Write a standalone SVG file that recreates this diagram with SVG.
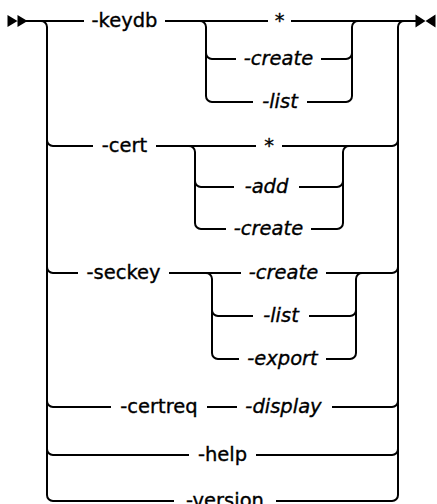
<svg xmlns="http://www.w3.org/2000/svg" width="437" height="504" viewBox="0 0 437 504">
<style>
.ln{fill:none;stroke:#000;stroke-width:2;stroke-linecap:butt}
.t{font-family:"DejaVu Sans","Liberation Sans",sans-serif;font-size:19.5px;fill:#000;stroke:#000;stroke-width:0.35;text-anchor:middle}
.i{font-style:italic}
.ah{fill:#000}
</style>
<rect width="437" height="504" fill="#fff"/>
<g id="connectors">
<path class="ah" d="M7.5,15 L17.5,21 L7.5,27 Z M17.5,15 L27.5,21 L17.5,27 Z"/>
<path class="ah" d="M415.5,14.5 L425.5,21 L415.5,27.5 Z M435.5,14.5 L425.5,21 L435.5,27.5 Z"/>
<path class="ln" d="M26,21 H84 M165,21 H268 M291,21 H417"/>
<path class="ln" d="M41,21 A6,6 0 0 1 47,27 V495 A6,6 0 0 0 53,501"/>
<path class="ln" d="M47,140 A6,6 0 0 0 53,146 M47,267 A6,6 0 0 0 53,273 M47,401 A6,6 0 0 0 53,407 M47,449 A6,6 0 0 0 53,455"/>
<path class="ln" d="M404,21 A6,6 0 0 0 398,27 V495 A6,6 0 0 1 392,501"/>
<path class="ln" d="M392,146 A6,6 0 0 0 398,140 M392,273 A6,6 0 0 0 398,267 M392,407 A6,6 0 0 0 398,401 M392,455 A6,6 0 0 0 398,449"/>
<path class="ln" d="M200,21 A6,6 0 0 1 206,27 V96 A6,6 0 0 0 212,102 M206,53 A6,6 0 0 0 212,59"/>
<path class="ln" d="M358,21 A6,6 0 0 0 352,27 V96 A6,6 0 0 1 346,102 M346,59 A6,6 0 0 0 352,53"/>
<path class="ln" d="M212,59 H236 M321,59 H346 M212,102 H253 M307,102 H346"/>
<path class="ln" d="M53,146 H93 M156,146 H256 M282,146 H392"/>
<path class="ln" d="M189,146 A6,6 0 0 1 195,152 V223 A6,6 0 0 0 201,229 M195,181 A6,6 0 0 0 201,187"/>
<path class="ln" d="M349,146 A6,6 0 0 0 343,152 V223 A6,6 0 0 1 337,229 M337,187 A6,6 0 0 0 343,181"/>
<path class="ln" d="M201,187 H234 M299,187 H337 M201,229 H226 M311,229 H337"/>
<path class="ln" d="M53,273 H78 M169,273 H241 M326,273 H392"/>
<path class="ln" d="M206,273 A6,6 0 0 1 212,279 V353 A6,6 0 0 0 218,359 M212,310 A6,6 0 0 0 218,316"/>
<path class="ln" d="M362,273 A6,6 0 0 0 356,279 V353 A6,6 0 0 1 350,359 M350,316 A6,6 0 0 0 356,310"/>
<path class="ln" d="M218,316 H253 M309,316 H350 M218,359 H239 M326,359 H350"/>
<path class="ln" d="M53,407 H111 M207,407 H237 M332,407 H392"/>
<path class="ln" d="M53,455 H189 M256,455 H392"/>
<path class="ln" d="M53,501 H174 M276,501 H392"/>
</g>
<g id="keydb"><text class="t" x="124.5" y="27">-keydb</text></g>
<g id="keydb-all"><text class="t" x="279.5" y="27">*</text></g>
<g id="keydb-create"><text class="t i" x="278.5" y="65">-create</text></g>
<g id="keydb-list"><text class="t i" x="280" y="108">-list</text></g>
<g id="cert"><text class="t" x="124.5" y="152">-cert</text></g>
<g id="cert-all"><text class="t" x="269" y="152">*</text></g>
<g id="cert-add"><text class="t i" x="266.5" y="193">-add</text></g>
<g id="cert-create"><text class="t i" x="268.5" y="235">-create</text></g>
<g id="seckey"><text class="t" x="123.5" y="279">-seckey</text></g>
<g id="seckey-create"><text class="t i" x="283.5" y="279">-create</text></g>
<g id="seckey-list"><text class="t i" x="281" y="322">-list</text></g>
<g id="seckey-export"><text class="t i" x="282.5" y="365">-export</text></g>
<g id="certreq"><text class="t" x="159" y="413">-certreq</text></g>
<g id="certreq-display"><text class="t i" x="283.5" y="413">-display</text></g>
<g id="help"><text class="t" x="222.5" y="461">-help</text></g>
<g id="version"><text class="t" x="225" y="507">-version</text></g>
</svg>
